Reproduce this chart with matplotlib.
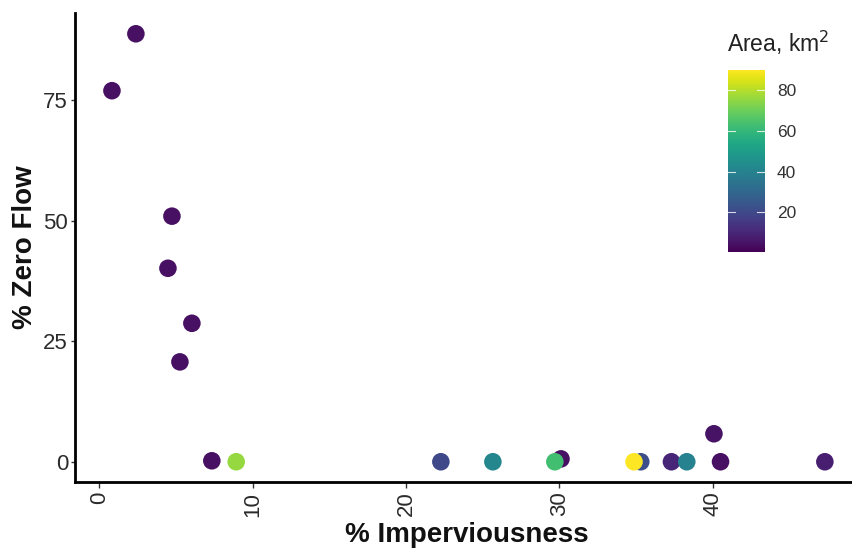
import matplotlib

matplotlib.use("Agg")
import matplotlib.pyplot as plt
import numpy as np

plt.rcParams["font.family"] = ["Liberation Sans", "DejaVu Sans"]

# % impervious cover, % zero-flow days, catchment area (km2)
impervious = [0.83, 2.39, 4.74, 4.48, 6.04, 5.26, 7.34, 8.93, 22.27, 25.66, 30.1, 29.7,
              35.3, 34.86, 37.3, 38.3, 40.07, 40.5, 47.3]
zero_flow = [76.9, 88.7, 50.9, 40.1, 28.7, 20.7, 0.2, 0.0, 0.0, 0.0, 0.6, 0.0,
             0.0, 0.0, 0.0, 0.0, 5.8, 0.0, 0.0]
area = [4.0, 4.0, 4.0, 4.0, 4.0, 4.0, 4.0, 76.0, 20.0, 42.0, 4.0, 63.0,
        22.0, 90.0, 10.0, 40.0, 5.0, 4.0, 8.0]

x_ticks = [0, 10, 20, 30, 40]
y_ticks = [0, 25, 50, 75]
cbar_ticks = [20, 40, 60, 80]

fig = plt.figure(figsize=(8.52, 5.5), dpi=100)
ax = fig.add_axes([0.088, 0.1236, 0.912, 0.8527])

sc = ax.scatter(impervious, zero_flow, c=area, cmap="viridis", vmin=0.5, vmax=90,
                s=160, linewidths=0, zorder=3)

ax.set_xlim(-1.58, 49.07)
ax.set_ylim(-4.2, 93.0)
ax.set_xticks(x_ticks)
ax.set_yticks(y_ticks)
ax.set_xticklabels([str(t) for t in x_ticks], rotation=90, fontsize=16, color="#2b2b2b")
ax.set_yticklabels([str(t) for t in y_ticks], fontsize=16, color="#2b2b2b")
ax.tick_params(axis="y", length=3, width=1, color="#333333", pad=2)
ax.tick_params(axis="x", length=4, width=1, color="#333333", pad=3)
for side in ["top", "right"]:
    ax.spines[side].set_visible(False)
for side in ["left", "bottom"]:
    ax.spines[side].set_linewidth(2)
    ax.spines[side].set_color("black")

ax.set_xlabel("% Imperviousness", fontsize=20, fontweight="bold", color="#111111")
ax.xaxis.set_label_coords((467 - 75) / 777, -0.085)
ax.set_ylabel("% Zero Flow", fontsize=20, fontweight="bold", color="#111111")
ax.yaxis.set_label_coords(-0.048, 0.5)

cax = fig.add_axes([0.854, 0.542, 0.0434, 0.331])
cb = fig.colorbar(sc, cax=cax, ticks=cbar_ticks)
cb.outline.set_visible(False)
cax.tick_params(length=0, labelsize=12.5, colors="#333333", pad=9)
for t in cbar_ticks:
    cax.axhline(t, xmin=0, xmax=0.2, color="white", lw=0.8, alpha=0.8)
    cax.axhline(t, xmin=0.8, xmax=1, color="white", lw=0.8, alpha=0.8)
fig.text(0.853, 0.905, "Area, km$^2$", fontsize=16.5, color="#222222", ha="left")

fig.savefig("out.png", dpi=100)
